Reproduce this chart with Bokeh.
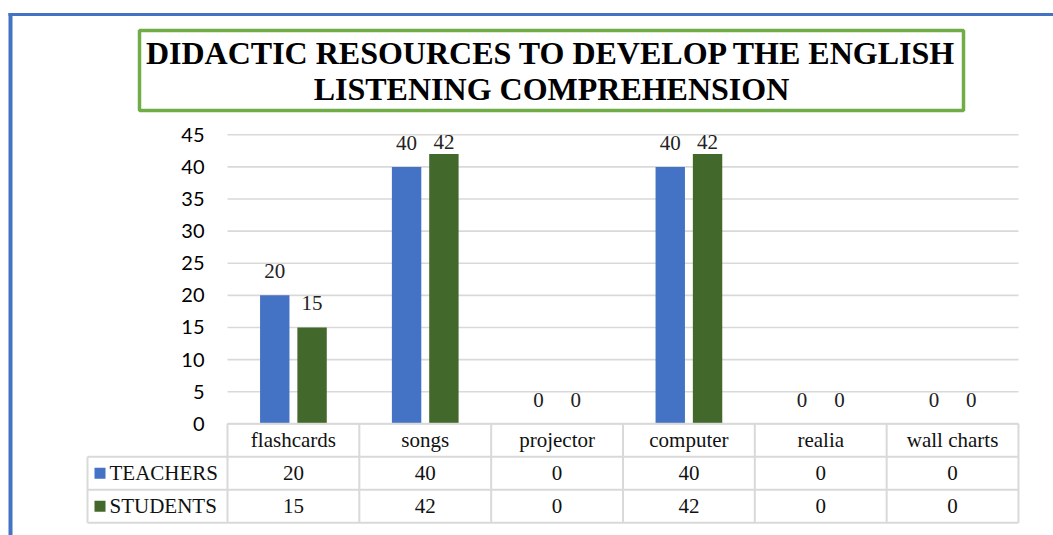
import numpy as np
from bokeh.plotting import figure
from bokeh.models import Range1d, ColumnDataSource
from bokeh.core.properties import value
from bokeh.embed import file_html
from bokeh.resources import INLINE

# ---------------- data ----------------
categories = ["flashcards", "songs", "projector", "computer", "realia", "wall charts"]
teachers = [20, 40, 0, 40, 0, 0]
students = [15, 42, 0, 42, 0, 0]
series_names = ["TEACHERS", "STUDENTS"]
y_ticks = [0, 5, 10, 15, 20, 25, 30, 35, 40, 45]
title_lines = ["DIDACTIC RESOURCES TO DEVELOP THE ENGLISH", "LISTENING COMPREHENSION"]

# ---------------- styles / layout ----------------
W, H = 1053, 535
BLUE = "#4472C4"
GREEN = "#43682B"
TITLE_GREEN = "#70AD47"
GRID = "#D9D9D9"
SERIF = value("Times New Roman")
SANS = value("Lato")
TXT = "21px"

# pixel <-> data mapping of the plot area
X0, PX_PER_CAT = 227.0, 131.83
Y0, PX_PER_UNIT = 423.3, 6.422


def dx(px):
    return (px - X0) / PX_PER_CAT


def dy(py):
    return (Y0 - py) / PX_PER_UNIT


p = figure(width=W, height=H, output_backend="svg", toolbar_location=None,
           x_range=Range1d(dx(0), dx(W)), y_range=Range1d(dy(H), dy(0)),
           min_border=0, min_border_left=0, min_border_right=0,
           min_border_top=0, min_border_bottom=0)
p.axis.visible = False
p.grid.visible = False
p.outline_line_color = None
p.background_fill_color = "white"
p.border_fill_color = "white"

n = len(categories)
centers = np.arange(n) + 0.5
offset = 0.1415
bar_w = 0.223

# outer blue frame (runs off right/bottom edge)
p.segment(x0=[dx(8), dx(10)], y0=[dy(14), dy(12.5)], x1=[dx(W + 5), dx(10)], y1=[dy(14), dy(H + 5)],
          line_color=BLUE, line_width=[3, 4])

# title box
p.rect(x=[dx(551)], y=[dy(70)], width=[824 / PX_PER_CAT], height=[80 / PX_PER_UNIT],
       fill_color=None, line_color=TITLE_GREEN, line_width=3.5)
p.text(x=[dx(551), dx(551)], y=[dy(52), dy(88.5)], text=title_lines,
       text_font=SERIF, text_font_style="bold", text_font_size="32px",
       text_align="center", text_baseline="middle", text_color="black")

# gridlines
gt = [t for t in y_ticks]
p.segment(x0=[0] * len(gt), x1=[n] * len(gt), y0=gt, y1=gt, line_color=GRID, line_width=1.6)

# y tick labels
p.text(x=[dx(204)] * len(y_ticks), y=y_ticks, text=[str(t) for t in y_ticks],
       text_font=SANS, text_font_size="20px", text_align="right", text_baseline="middle",
       text_color="#000000")

# bars
src_t = ColumnDataSource(dict(x=centers - offset, top=teachers, lab=[str(v) for v in teachers],
                              ly=np.minimum(teachers, 40.2)))
src_s = ColumnDataSource(dict(x=centers + offset, top=students, lab=[str(v) for v in students],
                              ly=np.minimum(students, 40.2)))
p.vbar(x="x", top="top", bottom=0, width=bar_w, source=src_t, fill_color=BLUE, line_color=None)
p.vbar(x="x", top="top", bottom=0, width=bar_w, source=src_s, fill_color=GREEN, line_color=None)

# data labels
for src in (src_t, src_s):
    p.text(x="x", y="ly", text="lab", source=src, y_offset=-24,
           text_font=SERIF, text_font_size=TXT, text_align="center",
           text_baseline="middle", text_color="#222222")

# ---------------- data table ----------------
row_h = 33.0 / PX_PER_UNIT
r1, r2, r3 = 0, -row_h, -2 * row_h
r_bottom = -3 * row_h
left = dx(87)

# horizontal lines
p.segment(x0=[0, left, left, left], x1=[n, n, n, n], y0=[r1, r2, r3, r_bottom], y1=[r1, r2, r3, r_bottom],
          line_color=GRID, line_width=2)
# vertical lines
vx = list(range(n + 1))
p.segment(x0=vx + [left], x1=vx + [left], y0=[r1] * (n + 1) + [r2], y1=[r_bottom] * (n + 2),
          line_color=GRID, line_width=2)

# category row
p.text(x=centers, y=[r1 - row_h / 2] * n, text=categories, text_font=SERIF, text_font_size=TXT,
       text_align="center", text_baseline="middle", text_color="#111111")
# values
p.text(x=centers, y=[r2 - row_h / 2] * n, text=[str(v) for v in teachers], text_font=SERIF,
       text_font_size=TXT, text_align="center", text_baseline="middle", text_color="#111111")
p.text(x=centers, y=[r3 - row_h / 2] * n, text=[str(v) for v in students], text_font=SERIF,
       text_font_size=TXT, text_align="center", text_baseline="middle", text_color="#111111")

# legend keys + series names
sq_w = 11 / PX_PER_CAT
sq_h = 11 / PX_PER_UNIT
p.rect(x=[dx(99.5)] * 2, y=[r2 - row_h / 2, r3 - row_h / 2], width=sq_w, height=sq_h,
       fill_color=[BLUE, GREEN], line_color=None)
p.text(x=[dx(109)] * 2, y=[r2 - row_h / 2, r3 - row_h / 2], text=series_names, text_font=SERIF,
       text_font_size=TXT, text_align="left", text_baseline="middle", text_color="#111111")

open("out.html", "w").write(file_html(p, INLINE))
